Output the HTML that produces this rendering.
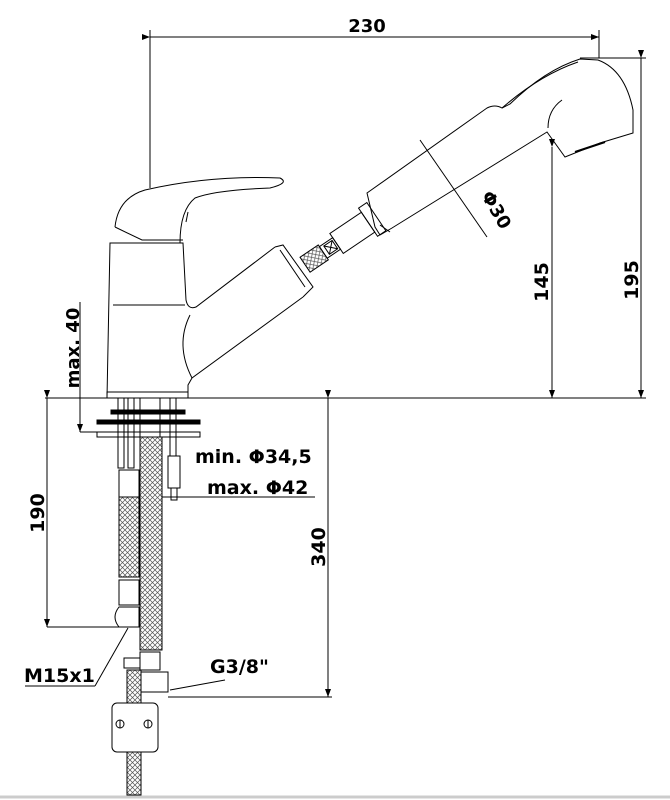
<!DOCTYPE html>
<html><head><meta charset="utf-8"><style>
html,body{margin:0;padding:0;background:#fff;}
svg{display:block;}
text{font-family:"DejaVu Sans","Liberation Sans",sans-serif;font-weight:bold;fill:#000;}
</style></head><body>
<svg width="670" height="800" viewBox="0 0 670 800" xmlns="http://www.w3.org/2000/svg">
<defs>
<pattern id="br" width="5" height="5" patternUnits="userSpaceOnUse">
<rect width="5" height="5" fill="#fff"/>
<path d="M0,0 L5,5 M0,5 L5,0" stroke="#555" stroke-width="0.7"/>
</pattern>
<marker id="ar" markerWidth="8" markerHeight="6" refX="8" refY="3" orient="auto" markerUnits="userSpaceOnUse">
<path d="M0,0 L8,3 L0,6 z" fill="#000"/></marker>
</defs>
<g fill="none" stroke="#000" stroke-width="1">
<line x1="150" y1="37" x2="599" y2="37" marker-start="url(#ar)" marker-end="url(#ar)"/>
<line x1="150" y1="30" x2="150" y2="188"/>
<line x1="599" y1="30" x2="599" y2="58"/>
<line x1="580" y1="58" x2="646" y2="58"/>
<line x1="641" y1="58" x2="641" y2="398" marker-start="url(#ar)" marker-end="url(#ar)"/>
<line x1="552" y1="147" x2="552" y2="398" marker-start="url(#ar)" marker-end="url(#ar)"/>
<line x1="45" y1="398" x2="646" y2="398"/>
<line x1="80" y1="302" x2="80" y2="432"/>
<line x1="80" y1="398" x2="80" y2="432" marker-end="url(#ar)"/>
<line x1="80" y1="432" x2="98" y2="432"/>
<line x1="47" y1="398" x2="47" y2="627" marker-start="url(#ar)" marker-end="url(#ar)"/>
<line x1="47" y1="627" x2="120" y2="627"/>
<line x1="328" y1="398" x2="328" y2="697" marker-start="url(#ar)" marker-end="url(#ar)"/>
<line x1="168" y1="697" x2="332" y2="697"/>
<line x1="150" y1="497" x2="315" y2="497"/>
<line x1="25" y1="686" x2="95" y2="686"/>
<line x1="95" y1="686" x2="128" y2="628"/>
<line x1="170" y1="690" x2="225" y2="680"/>
<path d="M107,398 L110,243 L183,243 L186,300 Q188,310 196,307 L275,247"/>
<line x1="113" y1="305" x2="185" y2="305"/>
<path d="M190,315 Q175,345 192,378"/>
<path d="M188,398 L188,385 L192,378 L303,297"/>
<rect x="107" y="392" width="81" height="6"/>
<path d="M115,227 Q118,198 145,190 Q210,175 280,178 Q290,183 270,188 Q215,190 195,198 Q180,210 180,243"/>
<path d="M115,227 L142,240 L183,240"/>
<path d="M186,222 L188,212"/>
<path d="M275,247 L283,245 L313,287 L303,297"/>
<line x1="280" y1="250" x2="305" y2="287"/>
<g transform="translate(315,258) rotate(-34)">
<rect x="-12" y="-9" width="22" height="18" fill="url(#br)"/>
<rect x="10" y="-7" width="16" height="14"/>
<rect x="26" y="-12" width="38" height="24"/>
<rect x="14" y="-5" width="10" height="10"/><path d="M14,-5 L24,5 M14,5 L24,-5"/>
<rect x="64" y="-17" width="10" height="34"/>
</g>
<path d="M367,193 L487,108 Q495,104 502,108 L510,104 Q545,70 580,59 L598,60 Q625,70 633,110 L633,133 L600,143 L565,157 L547,132 L392,228 L380,235 L375,227 Z"/>
<line x1="380" y1="225" x2="390" y2="232"/>
<path d="M502,108 Q540,75 578,62"/>
<path d="M548,128 Q548,110 562,100"/>
<path d="M575,152 L605,142" stroke-width="2"/>
<line x1="420" y1="140" x2="487" y2="237"/>
<rect x="111" y="410" width="74" height="4" fill="#000"/>
<rect x="97" y="420" width="103" height="4" fill="#000"/>
<rect x="97" y="432" width="103" height="5"/>
<rect x="118" y="398" width="6" height="70"/>
<rect x="128" y="398" width="6" height="70"/>
<rect x="140" y="398" width="20" height="39"/>
<rect x="170" y="398" width="6" height="58"/>
<rect x="168" y="456" width="12" height="32"/>
<rect x="171" y="488" width="6" height="12"/>
<rect x="119" y="470" width="20" height="27"/>
<rect x="119" y="497" width="20" height="80" fill="url(#br)"/>
<rect x="119" y="580" width="20" height="25"/>
<path d="M119,607 L139,607 L139,627 L119,627 Q111,617 119,607 Z"/>
<rect x="140" y="437" width="22" height="213" fill="url(#br)"/>
<rect x="140" y="652" width="20" height="18"/>
<rect x="124" y="658" width="16" height="10"/>
<rect x="140" y="672" width="28" height="20"/>
<rect x="127" y="670" width="14" height="125" fill="url(#br)"/>
<rect x="112" y="703" width="46" height="49" rx="5" fill="#fff"/>
<circle cx="120" cy="724" r="4"/><line x1="120" y1="720" x2="120" y2="728"/>
<circle cx="148" cy="724" r="4"/><line x1="148" y1="720" x2="148" y2="728"/>
<line x1="0" y1="797" x2="670" y2="797" stroke="#ccc" stroke-width="3"/>
</g>
<text x="367" y="32" font-size="18" text-anchor="middle">230</text>
<text transform="translate(638,280) rotate(-90)" font-size="19" text-anchor="middle">195</text>
<text transform="translate(548,282) rotate(-90)" font-size="19" text-anchor="middle">145</text>
<text transform="translate(491,213) rotate(60)" font-size="18" text-anchor="middle">Φ30</text>
<text transform="translate(79,348) rotate(-90)" font-size="18" text-anchor="middle">max. 40</text>
<text transform="translate(44,513) rotate(-90)" font-size="19" text-anchor="middle">190</text>
<text transform="translate(325,547) rotate(-90)" font-size="19" text-anchor="middle">340</text>
<text x="195" y="463" font-size="19">min. Φ34,5</text>
<text x="207" y="494" font-size="19">max. Φ42</text>
<text x="24" y="682" font-size="19">M15x1</text>
<text x="210" y="673" font-size="19">G3/8"</text>
</svg>
</body></html>
